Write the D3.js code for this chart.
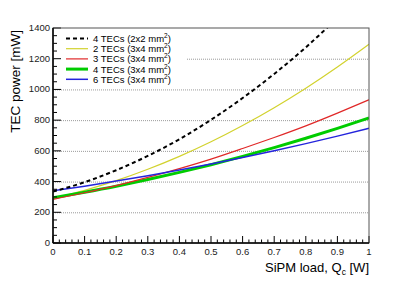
<!DOCTYPE html>
<html>
<head>
<meta charset="utf-8">
<script src="https://cdn.jsdelivr.net/npm/d3@7"></script>
<style>
  body { margin: 0; background: #fff; }
  svg { font-family: "Liberation Sans", Arial, Helvetica, sans-serif; }
</style>
</head>
<body>
<div id="chart"></div>
<script>
// SiPM load Q_c [W] sampled every 0.1
const loads = [0, 0.1, 0.2, 0.3, 0.4, 0.5, 0.6, 0.7, 0.8, 0.9, 1.0];

// TEC power [mW]
const tec4small = [335, 396, 474, 567, 676, 802, 944, 1101, 1274, 1465];
const tec2 = [290, 343, 406, 480, 564, 659, 765, 881, 1008, 1146, 1294];
const tec3 = [284, 327, 374, 427, 484, 546, 615, 687, 763, 846, 933];
const tec4 = [295, 331, 370, 413, 460, 510, 564, 621, 682, 746, 814];
const tec6 = [340, 370, 403, 438, 475, 515, 557, 601, 647, 696, 747];

const xTicks = [0, 0.1, 0.2, 0.3, 0.4, 0.5, 0.6, 0.7, 0.8, 0.9, 1];
const yTicks = [0, 200, 400, 600, 800, 1000, 1200, 1400];
const gridValues = [200, 400, 600, 800, 1000, 1200];

const series = [
    { label: '4 TECs (2x2 mm', values: tec4small, color: '#000000', width: 2, dash: '4,3' },
    { label: '2 TECs (3x4 mm', values: tec2, color: '#d2d22e', width: 1.2, dash: null },
    { label: '3 TECs (3x4 mm', values: tec3, color: '#e02828', width: 1.2, dash: null },
    { label: '4 TECs (3x4 mm', values: tec4, color: '#00cc00', width: 3, dash: null },
    { label: '6 TECs (3x4 mm', values: tec6, color: '#2424dc', width: 1.5, dash: null }
];

const W = 411, H = 281;
const margin = { top: 28, right: 42, bottom: 38, left: 53 };
const width = W - margin.left - margin.right;
const height = H - margin.top - margin.bottom;

const svg = d3.select('#chart').append('svg')
    .attr('width', W)
    .attr('height', H);

const g = svg.append('g')
    .attr('transform', `translate(${margin.left},${margin.top})`);

const x = d3.scaleLinear().domain([0, 1]).range([0, width]);
const y = d3.scaleLinear().domain([0, 1400]).range([height, 0]);

// Dotted horizontal grid
g.selectAll('.grid')
    .data(gridValues)
    .enter()
    .append('line')
    .attr('x1', 0)
    .attr('x2', width)
    .attr('y1', d => y(d) + 0.5)
    .attr('y2', d => y(d) + 0.5)
    .attr('stroke', '#9a9a9a')
    .attr('stroke-width', 1)
    .attr('stroke-dasharray', '1,1');

// Curves, clipped to the frame
svg.append('defs').append('clipPath')
    .attr('id', 'frame')
    .append('rect')
    .attr('width', width)
    .attr('height', height);

const line = d3.line()
    .x((d, i) => x(loads[i]))
    .y(d => y(d))
    .curve(d3.curveMonotoneX);

const curves = g.append('g').attr('clip-path', 'url(#frame)');
// draw thin ones last so blue sits on green like in the original
[1, 3, 2, 4, 0].forEach(i => {
    const s = series[i];
    curves.append('path')
        .attr('d', line(s.values))
        .attr('fill', 'none')
        .attr('stroke', s.color)
        .attr('stroke-width', s.width)
        .attr('stroke-dasharray', s.dash);
});

// Legend (white box hides the grid behind it)
const legend = g.append('g').attr('transform', 'translate(2,2)');
legend.append('rect')
    .attr('width', 132)
    .attr('height', 54)
    .attr('fill', '#fff');

series.forEach((s, i) => {
    const row = legend.append('g').attr('transform', `translate(0,${8.5 + i * 10.2})`);
    row.append('line')
        .attr('x1', 11)
        .attr('x2', 33)
        .attr('stroke', s.color)
        .attr('stroke-width', s.width)
        .attr('stroke-dasharray', s.dash);
    const t = row.append('text')
        .attr('x', 38)
        .attr('y', 3.5)
        .attr('font-size', 9.5)
        .attr('fill', '#000');
    t.append('tspan').text(s.label);
    t.append('tspan').attr('font-size', 6.5).attr('dy', -4).text('2');
    t.append('tspan').attr('dy', 4).text(')');
});

// Y axis ticks (inside, major + minor)
const yMinor = d3.range(0, 1401, 50).filter(v => v % 200 !== 0);
g.selectAll('.ytick')
    .data(yTicks)
    .enter()
    .append('line')
    .attr('x1', 0)
    .attr('x2', 8)
    .attr('y1', d => y(d))
    .attr('y2', d => y(d))
    .attr('stroke', '#000');
g.selectAll('.yminor')
    .data(yMinor)
    .enter()
    .append('line')
    .attr('x1', 0)
    .attr('x2', 4)
    .attr('y1', d => y(d))
    .attr('y2', d => y(d))
    .attr('stroke', '#000');

g.selectAll('.ylabel')
    .data(yTicks)
    .enter()
    .append('text')
    .attr('x', -3)
    .attr('y', d => y(d) + 3)
    .attr('text-anchor', 'end')
    .attr('font-size', 9.5)
    .attr('fill', '#222')
    .text(d => d);

// X axis ticks (inside, major + minor)
const xMinor = d3.range(0, 51).map(i => i / 50).filter((v, i) => i % 5 !== 0);
g.selectAll('.xtick')
    .data(xTicks)
    .enter()
    .append('line')
    .attr('x1', d => x(d))
    .attr('x2', d => x(d))
    .attr('y1', height)
    .attr('y2', height - 7)
    .attr('stroke', '#000');
g.selectAll('.xminor')
    .data(xMinor)
    .enter()
    .append('line')
    .attr('x1', d => x(d))
    .attr('x2', d => x(d))
    .attr('y1', height)
    .attr('y2', height - 3.5)
    .attr('stroke', '#000');

g.selectAll('.xlabel')
    .data(xTicks)
    .enter()
    .append('text')
    .attr('x', d => x(d))
    .attr('y', height + 12)
    .attr('text-anchor', 'middle')
    .attr('font-size', 9.5)
    .attr('fill', '#222')
    .text(d => d);

// Frame
g.append('rect')
    .attr('x', 0)
    .attr('y', 0)
    .attr('width', width)
    .attr('height', height)
    .attr('fill', 'none')
    .attr('stroke', '#555')
    .attr('stroke-width', 1);
g.append('line')
    .attr('x1', 0).attr('x2', 0)
    .attr('y1', 0).attr('y2', height)
    .attr('stroke', '#000').attr('stroke-width', 1.5);
g.append('line')
    .attr('x1', 0).attr('x2', width)
    .attr('y1', height).attr('y2', height)
    .attr('stroke', '#000').attr('stroke-width', 1.5);

// Axis titles
const xt = svg.append('text')
    .attr('x', margin.left + width)
    .attr('y', 272)
    .attr('text-anchor', 'end')
    .attr('font-size', 13)
    .attr('fill', '#000');
xt.append('tspan').text('SiPM load, Q');
xt.append('tspan').attr('font-size', 8.5).attr('dy', 3).text('c');
xt.append('tspan').attr('dy', -3).text(' [W]');

svg.append('text')
    .attr('transform', `translate(20,30) rotate(-90)`)
    .attr('text-anchor', 'end')
    .attr('font-size', 13.5)
    .attr('fill', '#000')
    .text('TEC power [mW]');
</script>
</body>
</html>
